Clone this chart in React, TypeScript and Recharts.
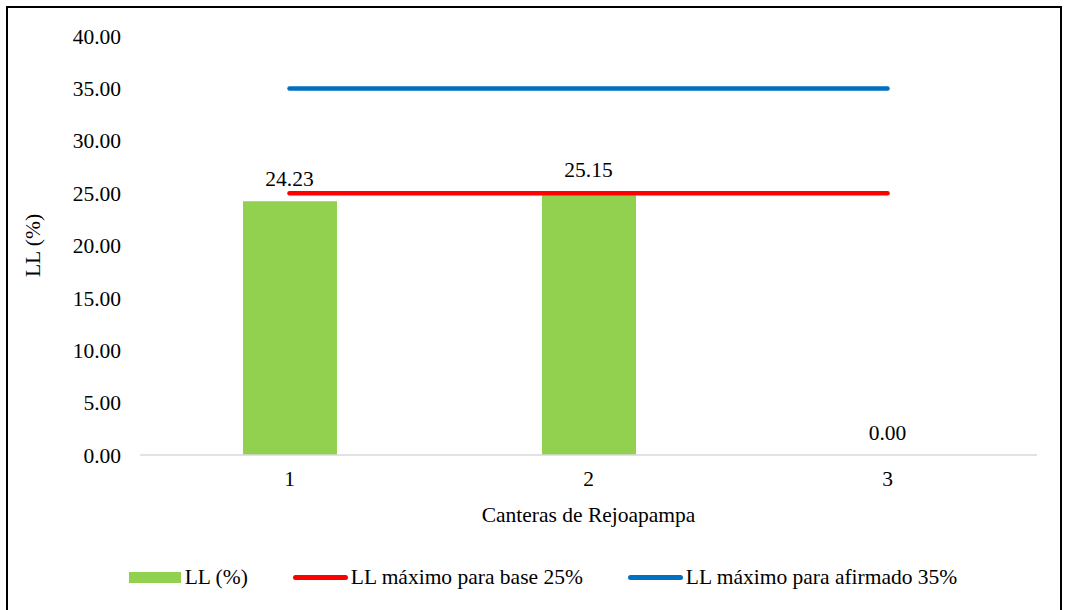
import React from "react";
import {
  ComposedChart,
  Bar,
  Line,
  XAxis,
  YAxis,
  Legend,
  LabelList,
} from "recharts";

const categories = ["1", "2", "3"];
const llValues = [24.23, 25.15, 0.0];
const baseLimit = [25, 25, 25];
const afirmadoLimit = [35, 35, 35];
const yTicks = [0, 5, 10, 15, 20, 25, 30, 35, 40];
const seriesNames = ["LL (%)", "LL máximo para base 25%", "LL máximo para afirmado 35%"];

const FONT = "Liberation Serif, DejaVu Serif, serif";
const FS = 21.5;

const data = categories.map((c, i) => ({
  cat: c,
  ll: llValues[i],
  base: baseLimit[i],
  afirmado: afirmadoLimit[i],
}));

// legend drawn like the Excel one: rect swatch for the bars, thick rounded line for the limits
const renderLegend = (props: any) => {
  const items = (props.payload || [])
    .filter((p: any) => seriesNames.includes(p.value))
    .sort((a: any, b: any) => seriesNames.indexOf(a.value) - seriesNames.indexOf(b.value));
  return (
    <div
      style={{
        display: "flex",
        justifyContent: "center",
        alignItems: "center",
        height: 24,
        paddingLeft: 26,
        fontFamily: FONT,
        fontSize: FS,
        color: "#000",
        whiteSpace: "nowrap",
      }}
    >
      {items.map((entry: any, i: number) => (
        <div
          key={i}
          style={{ display: "flex", alignItems: "center", marginRight: i < items.length - 1 ? 45 : 0 }}
        >
          {entry.type === "rect" ? (
            <div style={{ width: 52, height: 11, background: entry.color, marginRight: 4 }} />
          ) : (
            <div
              style={{
                width: 55,
                height: 5,
                borderRadius: 3,
                background: entry.color,
                marginRight: 3,
              }}
            />
          )}
          <span>{entry.value}</span>
        </div>
      ))}
    </div>
  );
};

const YTitle = (props: any) => {
  const { viewBox } = props;
  const x = viewBox.x + 10;
  const y = viewBox.y + viewBox.height / 2;
  return (
    <text
      x={x}
      y={y}
      transform={`rotate(-90, ${x}, ${y})`}
      textAnchor="middle"
      dominantBaseline="central"
      fontFamily={FONT}
      fontSize={FS}
      fill="#000"
    >
      LL (%)
    </text>
  );
};

const XTitle = (props: any) => {
  const { viewBox } = props;
  return (
    <text
      x={viewBox.x + viewBox.width / 2}
      y={viewBox.y + 60}
      textAnchor="middle"
      dominantBaseline="central"
      fontFamily={FONT}
      fontSize={FS}
      fill="#000"
    >
      Canteras de Rejoapampa
    </text>
  );
};

export default function App() {
  return (
    <div
      style={{
        position: "absolute",
        left: 6,
        top: 6,
        width: 1052,
        height: 604,
        border: "2px solid #000",
        background: "#fff",
        fontFamily: FONT,
      }}
    >
      <ComposedChart
        width={1052}
        height={604}
        data={data}
        margin={{ top: 28, right: 23, bottom: 23, left: 15 }}
      >
        <XAxis
          dataKey="cat"
          height={110}
          axisLine={{ stroke: "#d9d9d9", strokeWidth: 1.5 }}
          tickLine={false}
          tickSize={0}
          tickMargin={16}
          tick={{ fontFamily: FONT, fontSize: FS, fill: "#000" }}
          label={{ content: <XTitle /> }}
        />
        <YAxis
          width={117}
          domain={[0, 40]}
          ticks={yTicks}
          axisLine={false}
          tickLine={false}
          tickSize={0}
          tickMargin={19}
          tickFormatter={(v: number) => v.toFixed(2)}
          tick={{ fontFamily: FONT, fontSize: FS, fill: "#000" }}
          label={{ content: <YTitle /> }}
        />
        <Legend verticalAlign="bottom" content={renderLegend} />
        <Bar
          dataKey="ll"
          name="LL (%)"
          fill="#92d050"
          barSize={94}
          legendType="rect"
          isAnimationActive={false}
        />
        <Line
          dataKey="base"
          name="LL máximo para base 25%"
          stroke="#ff0000"
          strokeWidth={4.5}
          strokeLinecap="round"
          dot={false}
          activeDot={false}
          legendType="line"
          isAnimationActive={false}
        />
        <Line
          dataKey="afirmado"
          name="LL máximo para afirmado 35%"
          stroke="#0070c0"
          strokeWidth={4.5}
          strokeLinecap="round"
          dot={false}
          activeDot={false}
          legendType="line"
          isAnimationActive={false}
        />
        {/* invisible carrier for the bar value labels, so the 0.00 label shows too */}
        <Line
          dataKey="ll"
          stroke="none"
          dot={false}
          activeDot={false}
          legendType="none"
          isAnimationActive={false}
        >
          <LabelList
            dataKey="ll"
            position="top"
            offset={15}
            formatter={(v: any) => Number(v).toFixed(2)}
            fontFamily={FONT}
            fontSize={FS}
            fill="#000"
          />
        </Line>
      </ComposedChart>
    </div>
  );
}
